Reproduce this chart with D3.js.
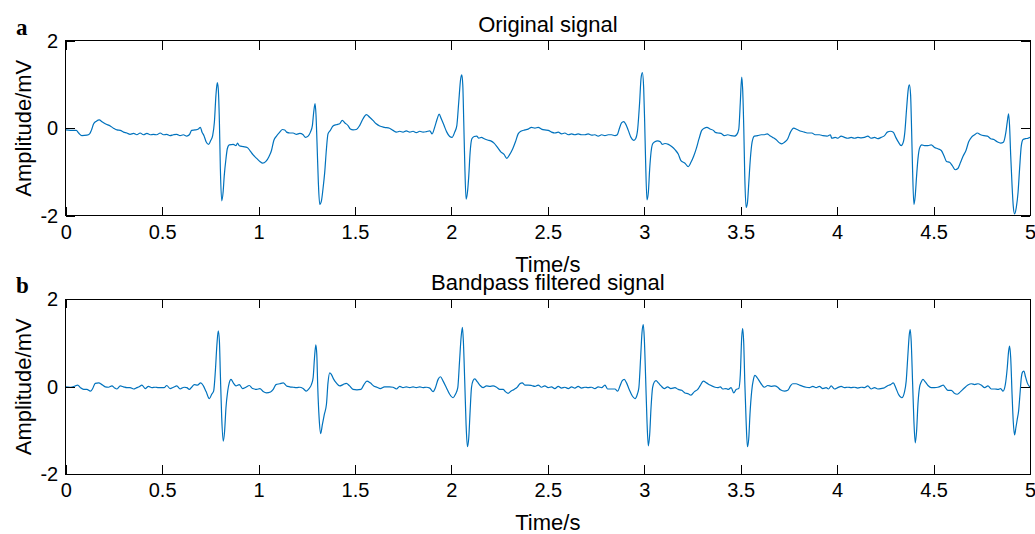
<!DOCTYPE html>
<html lang="en">
<head>
  <meta charset="UTF-8">
  <title>ECG signals</title>
  <script src="https://d3js.org/d3.v7.min.js"></script>
  <style>
  body {
    margin: 0;
    background: #fff;
  }
  text {
    font-family: "Liberation Sans", Arial, Helvetica, sans-serif;
    fill: #000;
  }
  .axis path { display: none; }
  .axis line { stroke: #000; stroke-width: 1px; shape-rendering: crispEdges; }
  .axis text { font-size: 20px; }
  .frame { fill: none; stroke: #000; stroke-width: 1px; shape-rendering: crispEdges; }
  .signal { fill: none; stroke: #0072BD; stroke-width: 1.2px; stroke-linejoin: round; }
  .panel-label { font-family: "Liberation Serif", "Times New Roman", serif; font-weight: bold; font-size: 23px; }
  .title, .label { font-size: 22px; }
  </style>
</head>
<body>
  <div class="container"></div>
  <script>
  // time (s), amplitude (mV)
  var originalSignal = [
    [0.000,-0.04],[0.024,-0.05],[0.055,-0.05],[0.067,-0.11],[0.084,-0.17],[0.110,-0.16],[0.124,-0.13],[0.133,-0.05],
    [0.145,0.10],[0.159,0.16],[0.174,0.19],[0.188,0.15],[0.205,0.10],[0.231,0.05],[0.248,0.00],[0.266,-0.04],
    [0.283,-0.05],[0.300,-0.09],[0.317,-0.11],[0.334,-0.14],[0.352,-0.12],[0.369,-0.15],[0.386,-0.11],[0.403,-0.15],
    [0.421,-0.12],[0.438,-0.15],[0.455,-0.14],[0.472,-0.15],[0.490,-0.11],[0.507,-0.15],[0.524,-0.14],[0.541,-0.17],
    [0.559,-0.15],[0.576,-0.14],[0.593,-0.17],[0.610,-0.15],[0.628,-0.18],[0.641,-0.15],[0.653,-0.05],[0.671,-0.04],
    [0.688,-0.02],[0.698,0.02],[0.707,-0.09],[0.717,-0.17],[0.728,-0.31],[0.741,-0.37],[0.752,-0.28],[0.762,-0.17],
    [0.771,0.14],[0.779,0.75],[0.786,1.04],[0.791,0.90],[0.797,0.14],[0.802,-0.93],[0.809,-1.66],[0.816,-1.47],
    [0.822,-1.09],[0.831,-0.70],[0.838,-0.47],[0.848,-0.38],[0.869,-0.37],[0.883,-0.40],[0.891,-0.34],[0.900,-0.40],
    [0.921,-0.42],[0.941,-0.44],[0.955,-0.51],[0.972,-0.61],[0.990,-0.69],[1.007,-0.76],[1.021,-0.80],[1.038,-0.76],
    [1.055,-0.64],[1.067,-0.51],[1.079,-0.28],[1.093,-0.18],[1.110,-0.09],[1.124,-0.03],[1.136,-0.04],[1.145,-0.09],
    [1.162,-0.11],[1.179,-0.11],[1.197,-0.14],[1.214,-0.12],[1.231,-0.15],[1.243,-0.21],[1.257,-0.18],[1.269,-0.09],
    [1.279,0.06],[1.286,0.37],[1.293,0.56],[1.298,0.29],[1.303,-0.32],[1.310,-1.24],[1.317,-1.74],[1.326,-1.66],
    [1.334,-1.39],[1.343,-1.01],[1.352,-0.47],[1.360,-0.13],[1.372,-0.05],[1.386,0.05],[1.403,0.08],[1.421,0.10],
    [1.434,0.18],[1.448,0.12],[1.464,0.06],[1.476,-0.02],[1.490,-0.04],[1.507,-0.03],[1.524,0.06],[1.541,0.21],
    [1.559,0.31],[1.576,0.25],[1.593,0.18],[1.610,0.10],[1.628,0.05],[1.653,0.02],[1.679,0.00],[1.697,-0.05],
    [1.715,-0.09],[1.732,-0.07],[1.749,-0.09],[1.766,-0.06],[1.784,-0.09],[1.801,-0.07],[1.818,-0.10],[1.836,-0.07],
    [1.853,-0.09],[1.870,-0.08],[1.888,-0.06],[1.900,-0.13],[1.913,0.02],[1.926,0.21],[1.936,0.32],[1.948,0.21],
    [1.962,0.06],[1.976,-0.09],[1.991,-0.19],[2.003,-0.21],[2.017,-0.09],[2.028,0.06],[2.038,0.60],[2.048,1.13],
    [2.054,1.22],[2.059,0.98],[2.064,0.14],[2.069,-0.78],[2.076,-1.62],[2.083,-1.47],[2.090,-1.09],[2.097,-0.55],
    [2.106,-0.24],[2.118,-0.19],[2.131,-0.18],[2.142,-0.23],[2.156,-0.21],[2.170,-0.24],[2.187,-0.27],[2.204,-0.29],
    [2.221,-0.34],[2.239,-0.44],[2.256,-0.54],[2.273,-0.60],[2.287,-0.69],[2.301,-0.61],[2.318,-0.47],[2.332,-0.31],
    [2.346,-0.13],[2.360,-0.07],[2.381,-0.04],[2.398,-0.02],[2.415,0.02],[2.433,0.00],[2.450,0.02],[2.467,-0.02],
    [2.484,-0.04],[2.502,-0.05],[2.519,-0.09],[2.536,-0.11],[2.554,-0.09],[2.571,-0.13],[2.588,-0.11],[2.606,-0.15],
    [2.623,-0.13],[2.640,-0.15],[2.657,-0.13],[2.675,-0.15],[2.692,-0.15],[2.709,-0.13],[2.727,-0.16],[2.744,-0.15],
    [2.761,-0.18],[2.779,-0.15],[2.796,-0.17],[2.813,-0.15],[2.830,-0.15],[2.848,-0.17],[2.860,-0.15],[2.870,-0.02],
    [2.882,0.12],[2.893,0.15],[2.903,0.10],[2.917,-0.05],[2.931,-0.21],[2.945,-0.28],[2.955,-0.24],[2.965,-0.05],
    [2.976,0.60],[2.983,1.13],[2.990,1.27],[2.997,0.90],[3.002,0.14],[3.007,-0.78],[3.014,-1.64],[3.021,-1.47],
    [3.028,-0.93],[3.035,-0.55],[3.043,-0.36],[3.055,-0.31],[3.069,-0.29],[3.083,-0.31],[3.093,-0.37],[3.107,-0.35],
    [3.125,-0.37],[3.142,-0.42],[3.159,-0.49],[3.176,-0.59],[3.190,-0.74],[3.211,-0.80],[3.228,-0.88],[3.242,-0.78],
    [3.256,-0.64],[3.270,-0.46],[3.284,-0.24],[3.298,-0.05],[3.311,0.00],[3.325,0.02],[3.341,-0.02],[3.358,-0.05],
    [3.367,-0.09],[3.381,-0.11],[3.398,-0.12],[3.415,-0.17],[3.433,-0.15],[3.450,-0.17],[3.467,-0.18],[3.479,-0.15],
    [3.490,-0.02],[3.498,0.60],[3.505,1.17],[3.510,0.90],[3.516,-0.02],[3.521,-1.09],[3.528,-1.81],[3.535,-1.70],
    [3.542,-1.24],[3.550,-0.70],[3.559,-0.32],[3.571,-0.18],[3.588,-0.17],[3.606,-0.15],[3.623,-0.15],[3.637,-0.13],
    [3.651,-0.17],[3.666,-0.21],[3.683,-0.26],[3.702,-0.34],[3.713,-0.36],[3.727,-0.32],[3.744,-0.24],[3.758,-0.09],
    [3.775,0.00],[3.792,-0.03],[3.813,-0.07],[3.830,-0.09],[3.851,-0.11],[3.869,-0.11],[3.886,-0.15],[3.908,-0.15],
    [3.926,-0.17],[3.948,-0.18],[3.965,-0.15],[3.972,-0.23],[3.990,-0.21],[4.003,-0.23],[4.021,-0.18],[4.038,-0.21],
    [4.055,-0.23],[4.073,-0.21],[4.090,-0.23],[4.107,-0.21],[4.125,-0.22],[4.142,-0.21],[4.159,-0.18],[4.176,-0.23],
    [4.194,-0.21],[4.211,-0.24],[4.228,-0.21],[4.246,-0.17],[4.260,-0.09],[4.277,-0.07],[4.291,-0.09],[4.304,-0.21],
    [4.318,-0.32],[4.332,-0.40],[4.343,-0.32],[4.351,-0.09],[4.360,0.44],[4.369,0.90],[4.375,0.99],[4.381,0.75],
    [4.386,-0.02],[4.391,-0.93],[4.398,-1.74],[4.405,-1.54],[4.412,-1.09],[4.419,-0.70],[4.427,-0.46],[4.439,-0.38],
    [4.453,-0.40],[4.471,-0.40],[4.488,-0.38],[4.505,-0.44],[4.522,-0.47],[4.540,-0.51],[4.554,-0.63],[4.567,-0.76],
    [4.583,-0.78],[4.599,-0.87],[4.612,-0.95],[4.626,-0.92],[4.640,-0.78],[4.654,-0.63],[4.668,-0.51],[4.682,-0.31],
    [4.696,-0.21],[4.713,-0.15],[4.727,-0.11],[4.744,-0.15],[4.761,-0.17],[4.779,-0.18],[4.796,-0.24],[4.813,-0.26],
    [4.830,-0.31],[4.848,-0.34],[4.862,-0.32],[4.875,-0.09],[4.882,0.14],[4.889,0.33],[4.894,0.06],[4.900,-0.63],
    [4.907,-1.31],[4.913,-1.77],[4.920,-1.96],[4.929,-1.81],[4.938,-1.47],[4.946,-0.93],[4.955,-0.40],[4.964,-0.26],
    [4.976,-0.24],[4.990,-0.23],[5.000,-0.21]
  ];

  var filteredSignal = [
    [0.000,0.00],[0.024,-0.01],[0.050,0.02],[0.062,0.04],[0.076,-0.02],[0.093,-0.06],[0.110,-0.06],[0.128,-0.10],
    [0.140,-0.04],[0.153,0.08],[0.171,0.09],[0.188,0.05],[0.205,0.00],[0.222,-0.01],[0.240,0.02],[0.252,-0.02],
    [0.266,-0.05],[0.283,0.02],[0.300,0.00],[0.317,-0.02],[0.334,-0.02],[0.352,-0.05],[0.369,-0.02],[0.381,0.00],
    [0.395,0.04],[0.412,-0.04],[0.429,0.01],[0.447,-0.02],[0.464,-0.01],[0.481,-0.02],[0.498,-0.02],[0.510,-0.02],
    [0.524,0.03],[0.541,-0.04],[0.559,-0.01],[0.576,0.02],[0.593,-0.05],[0.614,-0.01],[0.628,-0.02],[0.641,-0.06],
    [0.653,-0.01],[0.667,0.05],[0.683,0.04],[0.700,0.09],[0.714,0.02],[0.728,-0.11],[0.745,-0.27],[0.757,-0.17],
    [0.767,-0.10],[0.776,0.36],[0.784,0.96],[0.791,1.28],[0.797,1.04],[0.802,0.28],[0.809,-0.71],[0.817,-1.24],
    [0.824,-1.01],[0.831,-0.48],[0.840,-0.10],[0.848,0.09],[0.857,0.17],[0.869,0.09],[0.883,0.02],[0.900,0.05],
    [0.917,-0.04],[0.934,-0.01],[0.952,0.03],[0.969,-0.04],[0.990,-0.06],[1.007,-0.04],[1.024,-0.11],[1.041,-0.14],
    [1.062,-0.12],[1.076,-0.06],[1.090,0.05],[1.110,0.07],[1.128,0.09],[1.145,0.02],[1.162,0.00],[1.179,-0.01],
    [1.197,-0.02],[1.214,-0.01],[1.231,-0.04],[1.248,-0.10],[1.262,-0.04],[1.274,0.05],[1.283,0.21],[1.290,0.66],
    [1.297,0.96],[1.302,0.74],[1.307,-0.02],[1.314,-0.71],[1.322,-1.07],[1.331,-0.86],[1.341,-0.63],[1.352,-0.40],
    [1.360,0.09],[1.369,0.32],[1.378,0.28],[1.390,0.17],[1.403,0.09],[1.421,0.02],[1.438,0.05],[1.455,0.08],
    [1.472,0.02],[1.490,-0.06],[1.510,-0.07],[1.531,-0.06],[1.545,0.04],[1.562,0.13],[1.579,0.09],[1.597,0.02],
    [1.614,-0.01],[1.631,-0.04],[1.653,0.00],[1.679,0.00],[1.697,-0.01],[1.715,-0.05],[1.732,0.01],[1.749,-0.02],
    [1.766,0.00],[1.784,-0.02],[1.801,0.00],[1.818,-0.02],[1.836,0.00],[1.853,-0.02],[1.870,-0.01],[1.888,-0.03],
    [1.905,-0.11],[1.917,-0.02],[1.931,0.17],[1.943,0.23],[1.957,0.13],[1.974,-0.02],[1.991,-0.17],[2.009,-0.25],
    [2.021,-0.17],[2.033,-0.02],[2.042,0.58],[2.050,1.12],[2.057,1.36],[2.062,1.04],[2.069,0.13],[2.076,-0.86],
    [2.083,-1.37],[2.090,-1.16],[2.097,-0.55],[2.104,-0.02],[2.112,0.14],[2.121,0.18],[2.135,0.11],[2.147,0.04],
    [2.164,-0.02],[2.182,0.02],[2.199,0.01],[2.216,0.02],[2.234,-0.01],[2.251,-0.06],[2.268,-0.06],[2.280,-0.11],
    [2.294,-0.15],[2.308,-0.10],[2.325,-0.06],[2.343,0.00],[2.355,0.07],[2.367,0.09],[2.381,0.04],[2.398,0.04],
    [2.415,0.03],[2.433,0.01],[2.450,0.04],[2.467,-0.01],[2.484,0.02],[2.502,-0.02],[2.519,0.00],[2.536,-0.04],
    [2.554,0.01],[2.571,-0.03],[2.588,-0.01],[2.606,-0.04],[2.623,0.00],[2.640,-0.03],[2.657,0.01],[2.675,-0.03],
    [2.692,-0.01],[2.709,-0.02],[2.727,-0.01],[2.744,-0.04],[2.761,0.00],[2.779,-0.02],[2.796,0.04],[2.810,-0.05],
    [2.830,-0.05],[2.848,-0.05],[2.862,-0.10],[2.874,0.02],[2.886,0.14],[2.896,0.17],[2.908,0.09],[2.922,-0.06],
    [2.938,-0.21],[2.952,-0.27],[2.964,-0.17],[2.972,-0.02],[2.981,0.66],[2.988,1.23],[2.995,1.42],[3.000,1.12],
    [3.007,0.21],[3.014,-0.78],[3.021,-1.35],[3.028,-1.09],[3.035,-0.48],[3.043,-0.02],[3.052,0.11],[3.061,0.14],
    [3.073,0.09],[3.087,0.02],[3.104,-0.04],[3.121,0.00],[3.138,-0.04],[3.159,-0.02],[3.176,-0.06],[3.194,-0.08],
    [3.211,-0.14],[3.228,-0.16],[3.242,-0.19],[3.260,-0.11],[3.277,-0.06],[3.289,0.02],[3.306,0.13],[3.323,0.09],
    [3.341,0.04],[3.367,-0.01],[3.381,-0.02],[3.394,0.00],[3.407,-0.05],[3.424,-0.04],[3.436,-0.06],[3.450,-0.02],
    [3.464,-0.14],[3.476,-0.06],[3.490,-0.04],[3.498,0.28],[3.505,1.12],[3.510,1.33],[3.516,0.96],[3.521,0.13],
    [3.528,-0.78],[3.535,-1.37],[3.542,-1.16],[3.548,-0.63],[3.557,-0.10],[3.566,0.17],[3.574,0.26],[3.585,0.21],
    [3.597,0.13],[3.609,0.05],[3.623,-0.01],[3.640,0.03],[3.657,0.01],[3.675,0.02],[3.692,-0.01],[3.706,-0.07],
    [3.727,-0.10],[3.744,-0.08],[3.758,0.02],[3.770,0.07],[3.787,0.07],[3.804,0.04],[3.822,0.01],[3.839,-0.01],
    [3.856,-0.02],[3.874,0.01],[3.891,-0.02],[3.908,0.01],[3.926,-0.04],[3.943,-0.02],[3.955,-0.05],[3.969,0.02],
    [3.986,-0.05],[4.003,-0.02],[4.021,0.01],[4.038,-0.02],[4.055,-0.01],[4.073,-0.02],[4.090,-0.01],[4.107,-0.03],
    [4.125,-0.01],[4.142,-0.02],[4.159,0.02],[4.176,-0.05],[4.194,-0.02],[4.211,-0.05],[4.228,-0.04],[4.246,-0.02],
    [4.260,0.02],[4.277,0.05],[4.291,0.09],[4.304,-0.02],[4.318,-0.17],[4.336,-0.25],[4.348,-0.14],[4.358,0.13],
    [4.367,0.74],[4.374,1.19],[4.379,1.31],[4.384,1.04],[4.391,0.13],[4.398,-0.78],[4.405,-1.28],[4.412,-1.01],
    [4.419,-0.40],[4.427,-0.02],[4.436,0.11],[4.445,0.17],[4.457,0.11],[4.471,0.03],[4.488,-0.02],[4.505,-0.02],
    [4.522,-0.01],[4.540,0.02],[4.550,0.04],[4.561,-0.02],[4.574,-0.08],[4.592,-0.08],[4.606,-0.14],[4.623,-0.17],
    [4.640,-0.11],[4.657,-0.04],[4.678,0.04],[4.696,0.07],[4.713,0.05],[4.730,0.07],[4.747,0.04],[4.765,-0.02],
    [4.782,0.02],[4.799,-0.05],[4.817,-0.05],[4.834,-0.06],[4.848,-0.04],[4.860,-0.10],[4.872,0.05],[4.882,0.43],
    [4.889,0.81],[4.894,0.93],[4.900,0.66],[4.907,-0.17],[4.913,-0.78],[4.920,-1.10],[4.927,-0.93],[4.934,-0.74],
    [4.941,-0.55],[4.948,-0.17],[4.955,0.21],[4.962,0.34],[4.969,0.36],[4.976,0.24],[4.986,0.09],[5.000,-0.01]
  ];

  var xTicks = [0, 0.5, 1, 1.5, 2, 2.5, 3, 3.5, 4, 4.5, 5];
  var yTicks = [-2, 0, 2];
  var panelTitles = ["Original signal", "Bandpass filtered signal"];
  var panelLetters = ["a", "b"];
  var xLabel = "Time/s", yLabel = "Amplitude/mV";

  var w = 1035, h = 534;
  var left = 65.7, right = 1030;
  var panelTops = [40.7, 299.3], panelH = 175;
  var tickLen = 9;

  var svg = d3.select('.container')
    .append('svg')
    .attr('width', w)
    .attr('height', h);

  var xScale = d3.scaleLinear().domain([0, 5]).range([0, right - left]);
  var yScale = d3.scaleLinear().domain([-2, 2]).range([panelH, 0]);

  // plain hyphen for negatives, like the original figure
  var plain = function(d) { return String(d); };

  var line_generator = d3.line()
    .x(function(d) { return xScale(d[0]); })
    .y(function(d) { return yScale(d[1]); })
    .curve(d3.curveMonotoneX);

  [originalSignal, filteredSignal].forEach(function(series, i) {
    var g = svg.append('g')
      .attr('transform', 'translate(' + left + ',' + panelTops[i] + ')');

    g.append('clipPath').attr('id', 'clip' + i)
      .append('rect').attr('width', xScale.range()[1]).attr('height', panelH);

    g.append('path')
      .attr('class', 'signal')
      .attr('clip-path', 'url(#clip' + i + ')')
      .attr('d', line_generator(series));

    // ticks pointing inward, MATLAB style
    g.append('g').attr('class', 'axis')
      .attr('transform', 'translate(0,' + panelH + ')')
      .call(d3.axisBottom(xScale).tickValues(xTicks).tickSize(-tickLen).tickPadding(9).tickFormat(plain));
    g.append('g').attr('class', 'axis')
      .call(d3.axisTop(xScale).tickValues(xTicks).tickSize(-tickLen).tickFormat(''));
    g.append('g').attr('class', 'axis')
      .call(d3.axisLeft(yScale).tickValues(yTicks).tickSize(-tickLen).tickPadding(7.5).tickFormat(plain));
    g.append('g').attr('class', 'axis')
      .attr('transform', 'translate(' + xScale.range()[1] + ',0)')
      .call(d3.axisRight(yScale).tickValues(yTicks).tickSize(-tickLen).tickFormat(''));

    g.append('rect').attr('class', 'frame')
      .attr('width', xScale.range()[1]).attr('height', panelH);

    g.append('text').attr('class', 'title')
      .attr('x', xScale.range()[1] / 2).attr('y', -9)
      .attr('text-anchor', 'middle')
      .text(panelTitles[i]);

    g.append('text').attr('class', 'label')
      .attr('x', xScale.range()[1] / 2).attr('y', panelH + 56)
      .attr('text-anchor', 'middle')
      .text(xLabel);

    g.append('text').attr('class', 'label')
      .attr('transform', 'translate(' + (31 - left) + ',' + (panelH / 2) + ') rotate(-90)')
      .attr('text-anchor', 'middle')
      .text(yLabel);

    g.append('text').attr('class', 'panel-label')
      .attr('x', 16 - left).attr('y', -6)
      .text(panelLetters[i]);
  });
  </script>
</body>
</html>
